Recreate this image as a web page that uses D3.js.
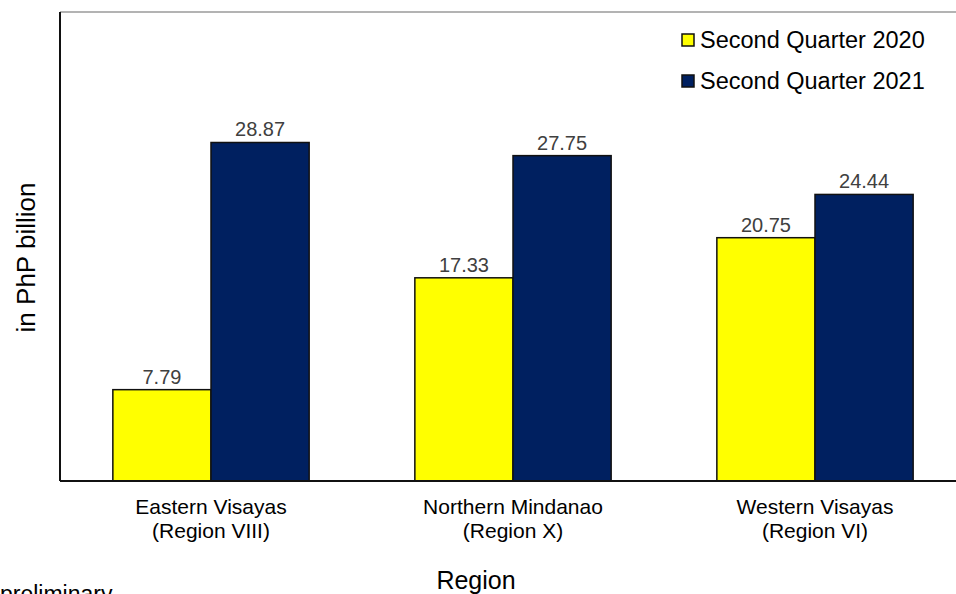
<!DOCTYPE html>
<html>
<head>
<meta charset="utf-8">
<script src="https://cdn.jsdelivr.net/npm/d3@7"></script>
<style>
  html, body { margin: 0; padding: 0; background: #fff; overflow: hidden; }
  svg { display: block; font-family: "Liberation Sans", Arial, sans-serif; }
</style>
</head>
<body>
<svg id="chart" width="956" height="594"></svg>
<script>
const categories = ["Eastern Visayas|(Region VIII)", "Northern Mindanao|(Region X)", "Western Visayas|(Region VI)"];
const seriesNames = ["Second Quarter 2020", "Second Quarter 2021"];
const q2_2020 = [7.79, 17.33, 20.75];
const q2_2021 = [28.87, 27.75, 24.44];
const seriesColors = ["#FFFF00", "#002060"];
const yTitle = "in PhP billion";
const xTitle = "Region";
const footnote = "preliminary";

const svg = d3.select("#chart");
const plotLeft = 60, plotRight = 966, plotTop = 12, plotBottom = 481;

const x0 = d3.scaleBand().domain(categories).range([plotLeft, plotRight]).paddingInner(0.35).paddingOuter(0.175);
const x1 = d3.scaleBand().domain(seriesNames).range([0, x0.bandwidth()]).padding(0);
const y = d3.scaleLinear().domain([0, 40]).range([plotBottom, plotTop]);

const series = [q2_2020, q2_2021];
const rows = [];
categories.forEach((c, i) => series.forEach((s, j) => rows.push({cat: c, name: seriesNames[j], value: s[i], color: seriesColors[j]})));

// top border
svg.append("line").attr("x1", plotLeft).attr("x2", 956).attr("y1", plotTop).attr("y2", plotTop)
  .attr("stroke", "#b3b3b3").attr("stroke-width", 2);

// bars
svg.append("g").selectAll("rect").data(rows).join("rect")
  .attr("x", d => x0(d.cat) + x1(d.name))
  .attr("y", d => y(d.value))
  .attr("width", x1.bandwidth())
  .attr("height", d => y(0) - y(d.value))
  .attr("fill", d => d.color)
  .attr("stroke", "#111")
  .attr("stroke-width", 1.5);

// data labels
svg.append("g").selectAll("text").data(rows).join("text")
  .attr("x", d => x0(d.cat) + x1(d.name) + x1.bandwidth() / 2)
  .attr("y", d => y(d.value) - 6)
  .attr("text-anchor", "middle")
  .attr("font-size", 20)
  .attr("fill", "#404040")
  .text(d => d.value.toFixed(2));

// axes lines
const yAxis = d3.axisLeft(y).tickValues([]).tickSize(0);
svg.append("g").attr("transform", `translate(${plotLeft},0)`).call(yAxis)
  .call(g => g.select(".domain").attr("stroke", "#111").attr("stroke-width", 2).attr("d", `M0,${plotTop}V${plotBottom}`));

const xAxis = d3.axisBottom(x0).tickSize(0).tickFormat("");
const gx = svg.append("g").attr("transform", `translate(0,${plotBottom})`).call(xAxis);
gx.select(".domain").attr("stroke", "#111").attr("stroke-width", 2).attr("d", `M${plotLeft},0H956`);

// category labels
gx.selectAll(".tick").each(function(d) {
  const t = d3.select(this);
  t.select("text").remove();
  const parts = d.split("|");
  const txt = t.append("text").attr("fill", "#000").attr("font-size", 21).attr("text-anchor", "middle");
  parts.forEach((p, i) => txt.append("tspan").attr("x", 0).attr("y", 33 + i * 24).text(p));
});

// y title
svg.append("text")
  .attr("transform", `translate(35,${(plotTop + plotBottom) / 2 + 11}) rotate(-90)`)
  .attr("text-anchor", "middle")
  .attr("font-size", 26)
  .attr("fill", "#000")
  .text(yTitle);

// x title
svg.append("text")
  .attr("x", 476).attr("y", 589)
  .attr("text-anchor", "middle")
  .attr("font-size", 25)
  .attr("fill", "#000")
  .text(xTitle);

// footnote
svg.append("text")
  .attr("x", 0).attr("y", 602)
  .attr("font-size", 23)
  .attr("fill", "#000")
  .text(footnote);

// legend
const lg = svg.append("g").selectAll("g").data(seriesNames).join("g")
  .attr("transform", (d, i) => `translate(682,${34 + i * 41})`);
lg.append("rect").attr("width", 12).attr("height", 12)
  .attr("fill", (d, i) => seriesColors[i]).attr("stroke", "#111").attr("stroke-width", 1.5);
lg.append("text").attr("x", 18).attr("y", 13.5).attr("font-size", 23.5).attr("fill", "#000").text(d => d);
</script>
</body>
</html>
